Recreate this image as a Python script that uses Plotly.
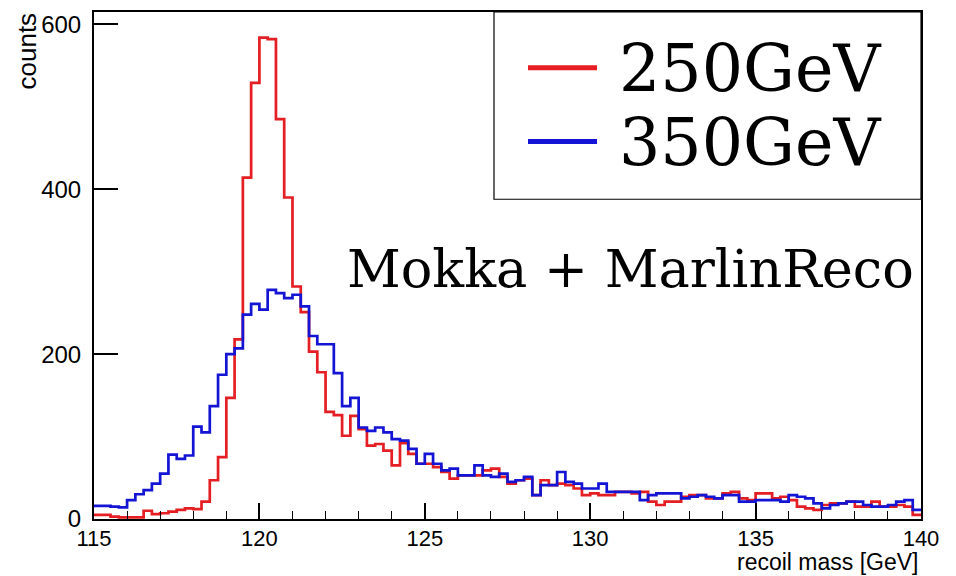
import plotly.graph_objects as go

# ---- data (counts per 0.25 GeV bin, 115 -> 140 GeV) ----
bin_low = 115.0
bin_width = 0.25

counts_250 = [
    5, 5, 3, 2, 2, 2, 10, 6, 7, 9,
    11, 13, 12, 21, 47, 75, 147, 218, 414, 529,
    584, 582, 485, 390, 282, 251, 203, 178, 130, 126,
    101, 125, 109, 89, 91, 83, 65, 92, 79, 67,
    67, 63, 57, 49, 53, 53, 53, 59, 61, 51,
    43, 47, 49, 29, 47, 41, 43, 41, 37, 29,
    31, 29, 29, 33, 33, 31, 33, 21, 17, 21,
    21, 27, 29, 29, 25, 25, 31, 33, 25, 23,
    31, 31, 25, 27, 23, 15, 13, 11, 17, 19,
    19, 21, 15, 15, 21, 15, 15, 17, 15, 5,
]

counts_350 = [
    16, 16, 15, 14, 23, 30, 35, 43, 55, 78,
    73, 77, 112, 105, 137, 175, 200, 207, 248, 261,
    254, 278, 274, 268, 272, 258, 222, 212, 212, 177,
    137, 147, 111, 107, 111, 105, 97, 95, 85, 67,
    79, 67, 59, 61, 53, 53, 65, 53, 51, 55,
    45, 47, 51, 29, 41, 41, 57, 45, 43, 37,
    37, 43, 33, 33, 33, 33, 23, 29, 31, 31,
    31, 25, 27, 29, 27, 25, 29, 29, 21, 21,
    23, 23, 23, 21, 29, 27, 25, 19, 13, 17,
    19, 21, 21, 17, 15, 15, 17, 21, 23, 11,
]

series_names = ["250GeV", "350GeV"]
series_colors = ["rgb(228,30,34)", "rgb(20,20,212)"]
x_ticks = [115, 120, 125, 130, 135, 140]
y_ticks = [0, 200, 400, 600]

# ---- build step outlines ----
n_bins = len(counts_250)
edges = [bin_low + i * bin_width for i in range(n_bins + 1)]

fig = go.Figure()
for name, vals, col in zip(series_names, [counts_250, counts_350], series_colors):
    fig.add_trace(go.Scatter(
        x=edges, y=list(vals) + [vals[-1]],
        mode="lines", line=dict(color=col, width=2.7, shape="hv"),
        name=name, showlegend=False, hoverinfo="skip",
    ))

# ---- layout ----
L, R, T, B = 94, 921, 10, 519
W, H = 956, 576

def px(x):
    return (x - L) / (R - L)

def py(y):
    return (B - y) / (B - T)

SANS = "Liberation Sans, Arial, sans-serif"
SERIF = "DejaVu Serif, serif"

fig.update_layout(
    width=W, height=H,
    margin=dict(l=L, r=W - R, t=T, b=H - B),
    paper_bgcolor="white", plot_bgcolor="white",
    showlegend=False,
    font=dict(family=SANS, color="black"),
)
fig.update_xaxes(
    range=[115, 140], tickvals=x_ticks, ticktext=[str(v) for v in x_ticks],
    ticks="inside", ticklen=16, tickwidth=1.5, tickcolor="black",
    minor=dict(ticks="inside", ticklen=8, dtick=1, tickwidth=1.2, tickcolor="black"),
    showline=True, linecolor="black", linewidth=2, mirror=True,
    showgrid=False, zeroline=False,
    tickfont=dict(size=22, family=SANS), ticklabelstandoff=-1,
)
fig.update_yaxes(
    range=[0, 615], tickvals=y_ticks, ticktext=[str(v) for v in y_ticks],
    ticks="inside", ticklen=24, tickwidth=1.5, tickcolor="black",
    showline=True, linecolor="black", linewidth=2, mirror=True,
    showgrid=False, zeroline=False,
    tickfont=dict(size=24, family=SANS), ticklabelstandoff=6,
)

# axis titles (ROOT style)
fig.add_annotation(text="recoil mass [GeV]", xref="paper", yref="paper",
                   x=1.0, y=py(577), xanchor="right", yanchor="bottom",
                   showarrow=False, font=dict(size=23))
fig.add_annotation(text="counts", xref="paper", yref="paper",
                   x=px(27), y=py(9), xanchor="center", yanchor="top", textangle=-90,
                   showarrow=False, font=dict(size=26))

# legend box
fig.add_shape(type="rect", xref="paper", yref="paper",
              x0=px(494), x1=1.0, y0=py(198), y1=1.0,
              line=dict(color="black", width=1.2), fillcolor="white", layer="above")
for name, col, yy in zip(series_names, series_colors, [66, 140]):
    fig.add_shape(type="line", xref="paper", yref="paper",
                  x0=px(528), x1=px(597), y0=py(yy), y1=py(yy),
                  line=dict(color=col, width=5), layer="above")
    fig.add_annotation(text=name, xref="paper", yref="paper",
                       x=px(617), y=py(yy + 1), xanchor="left", yanchor="middle",
                       showarrow=False,
                       font=dict(size=65, family=SERIF, color="black"))

fig.add_annotation(text="Mokka + MarlinReco", xref="paper", yref="paper",
                   x=px(345), y=py(268), xanchor="left", yanchor="middle",
                   showarrow=False,
                   font=dict(size=52.5, family=SERIF, color="black"))

fig.write_html("out.html")
